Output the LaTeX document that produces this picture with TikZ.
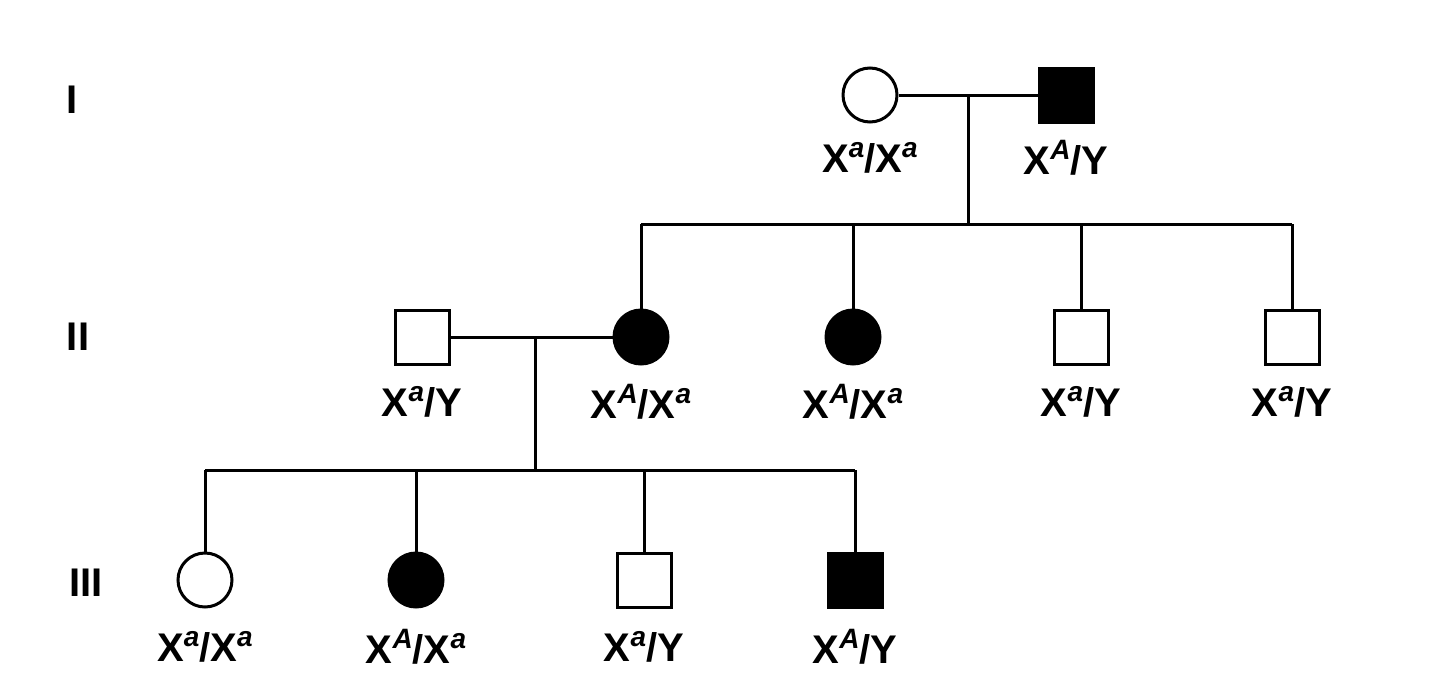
\documentclass[tikz,border=0pt]{standalone}
\usepackage{fontspec}
\setmainfont{Liberation Sans}
\begin{document}
\begin{tikzpicture}[x=1pt,y=-1pt,line width=3pt,
  fem/.style={circle,draw,minimum size=54pt,inner sep=0pt},
  mal/.style={rectangle,draw,minimum size=54pt,inner sep=0pt},
  aff/.style={fill=black},
  lab/.style={font=\bfseries\fontsize{40}{40}\selectfont,inner sep=0pt},
  gen/.style={font=\bfseries\fontsize{40}{40}\selectfont,inner sep=0pt}]
\useasboundingbox (0,0) rectangle (1440,691);
\newcommand{\sx}[1]{X\raisebox{0.38em}{\fontsize{28}{28}\selectfont\itshape #1}}
\node[gen] (g1) at (72,100) {I};
\node[gen] (g2) at (78,337) {II};
\node[gen] (g3) at (86,583) {III};
% Gen I
\node[fem] (i1) at (870,95) {};
\node[mal,aff] (i2) at (1066,95) {};
\node[lab] at (870,158) {\sx{a}/\sx{a}};
\node[lab] at (1066,158) {\sx{A}/Y};
\coordinate (m1) at (968,97);
\draw (i1) -- (i2);
\draw (m1) -- (968,224);
\draw (641,224) -- (1292,224);
% Gen II
\node[mal] (ii1) at (422,337) {};
\node[fem,aff] (ii2) at (641,337) {};
\node[fem,aff] (ii3) at (853,337) {};
\node[mal] (ii4) at (1081,337) {};
\node[mal] (ii5) at (1292,337) {};
\foreach \n in {ii2,ii3,ii4,ii5} \draw (\n.north) -- (\n.north|-0,224);
\node[lab] at (422,402) {\sx{a}/Y};
\node[lab] at (641,402) {\sx{A}/\sx{a}};
\node[lab] at (853,402) {\sx{A}/\sx{a}};
\node[lab] at (1081,402) {\sx{a}/Y};
\node[lab] at (1292,402) {\sx{a}/Y};
\draw (ii1) -- (ii2);
\draw (535,337) -- (535,470);
\draw (205,470) -- (855,470);
% Gen III
\node[fem] (iii1) at (205,580) {};
\node[fem,aff] (iii2) at (416,580) {};
\node[mal] (iii3) at (644,580) {};
\node[mal,aff] (iii4) at (855,580) {};
\foreach \n in {iii1,iii2,iii3,iii4} \draw (\n.north) -- (\n.north|-0,470);
\node[lab] at (205,647) {\sx{a}/\sx{a}};
\node[lab] at (416,647) {\sx{A}/\sx{a}};
\node[lab] at (644,647) {\sx{a}/Y};
\node[lab] at (855,647) {\sx{A}/Y};
\end{tikzpicture}
\end{document}
